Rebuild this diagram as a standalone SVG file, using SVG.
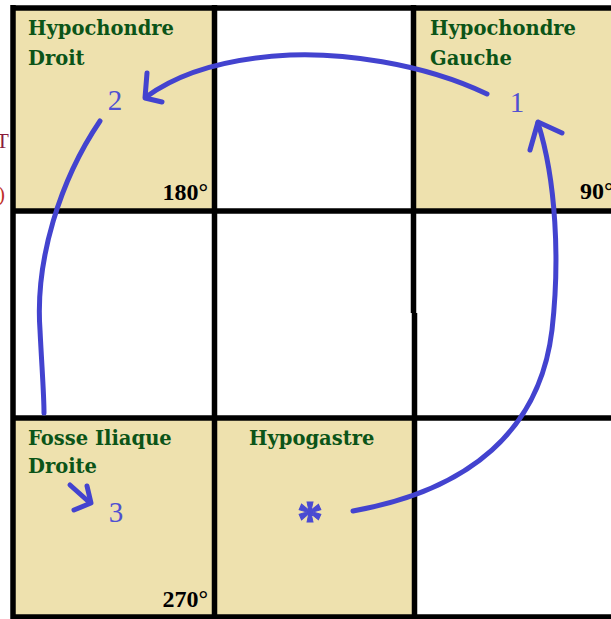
<svg xmlns="http://www.w3.org/2000/svg" width="611" height="619" viewBox="0 0 611 619">
<defs>
<style>
.cell{fill:#EEE1AE}
.grid{stroke:#000;stroke-width:5.5;fill:none}
.title{font-family:"DejaVu Serif","Liberation Serif",serif;font-weight:bold;font-size:19.5px;fill:#0b5418}
.deg{font-family:"Liberation Serif",serif;font-weight:bold;font-size:24px;fill:#000}
.num{font-family:"Liberation Serif",serif;font-size:29px;fill:#5050d2}
.arr{stroke:#4343cf;stroke-width:5;fill:none;stroke-linecap:round;stroke-linejoin:round}
.frag{font-family:"Liberation Serif",serif;font-size:21px}
</style>
</defs>
<rect width="611" height="619" fill="#fff"/>
<text class="frag" x="-4" y="148" fill="#8a1c3c">T</text>
<text class="frag" x="-2" y="201" fill="#c0302a">)</text>
<g id="hypochondre-droit">
<rect class="cell" x="13" y="8" width="201.5" height="203"/>
<text class="title" x="28" y="35">Hypochondre</text>
<text class="title" x="28" y="65">Droit</text>
<text class="num" x="115" y="110" text-anchor="middle">2</text>
<text class="deg" x="208" y="200" text-anchor="end">180°</text>
</g>
<g id="hypochondre-gauche">
<rect class="cell" x="414" y="8" width="197" height="203"/>
<text class="title" x="430" y="35">Hypochondre</text>
<text class="title" x="430" y="65">Gauche</text>
<text class="num" x="517" y="112" text-anchor="middle">1</text>
<text class="deg" x="580" y="199">90°</text>
</g>
<g id="fosse-iliaque-droite">
<rect class="cell" x="13" y="418" width="201.5" height="199"/>
<text class="title" x="28" y="445">Fosse Iliaque</text>
<text class="title" x="28" y="473">Droite</text>
<text class="num" x="116" y="522" text-anchor="middle">3</text>
<text class="deg" x="208" y="607" text-anchor="end">270°</text>
</g>
<g id="hypogastre">
<rect class="cell" x="214.5" y="418" width="199.5" height="199"/>
<text class="title" x="249" y="445">Hypogastre</text>
<text x="310" y="537" text-anchor="middle" font-family="Liberation Serif,serif" font-weight="bold" font-size="52" fill="#4a4ad2" stroke="#4a4ad2" stroke-width="1">*</text>
</g>
<g id="grid">
<line class="grid" x1="13" y1="8" x2="611" y2="8"/>
<line class="grid" x1="13" y1="211" x2="611" y2="211"/>
<line class="grid" x1="13" y1="418" x2="611" y2="418"/>
<line class="grid" x1="13" y1="617" x2="611" y2="617"/>
<line class="grid" x1="13" y1="5" x2="13" y2="619"/>
<line class="grid" x1="214.5" y1="5" x2="214.5" y2="619"/>
<line class="grid" x1="413.5" y1="5" x2="413.5" y2="313"/>
<line class="grid" x1="414.5" y1="313" x2="414.5" y2="619"/>
</g>
<g id="connectors">
<path class="arr" d="M353,511 C470,490 540,430 552,330 C560,260 556,180 538,123"/>
<path class="arr" d="M530,150 L538,122 L562,133"/>
<path class="arr" d="M487,94 C420,62 340,53 290,55 C230,58 180,72 146,97"/>
<path class="arr" d="M147,73 L145,98 L162,102"/>
<path class="arr" d="M100,121 C60,180 35,260 40,330 C42,370 44,395 44,413"/>
<path class="arr" d="M70,485 L89,502"/>
<path class="arr" d="M87,486 L91,503 L74,510"/>
</g>
</svg>
